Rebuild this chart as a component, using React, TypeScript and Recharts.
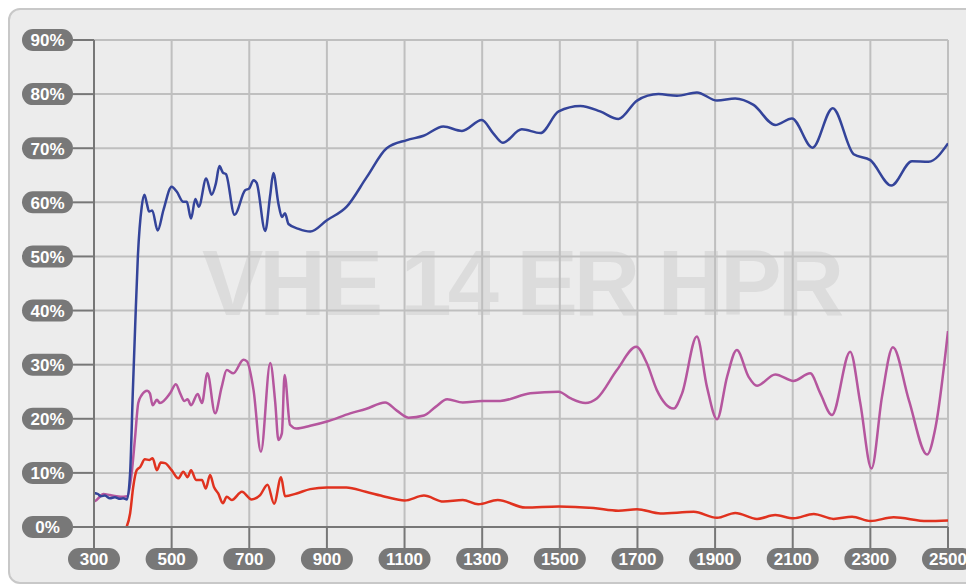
import React from 'react';
import { LineChart, Line, XAxis, YAxis, CartesianGrid } from 'recharts';

const xTicks = [300, 500, 700, 900, 1100, 1300, 1500, 1700, 1900, 2100, 2300, 2500];
const yTicks = [0, 10, 20, 30, 40, 50, 60, 70, 80, 90];
const watermark = 'VHE 14 ER HPR';

const blueWl = [300,310,318,328,341,354,367,375,385,393,400,406,413,423,430,436,442,450,464,479,500,513,530,539,550,561,570,589,603,614,623,632,640,662,689,700,711,719,741,754,762,775,784,792,801,827,857,900,951,1003,1054,1106,1149,1200,1248,1299,1328,1353,1402,1450,1497,1553,1604,1651,1699,1754,1802,1853,1905,1952,1999,2055,2098,2151,2203,2257,2300,2354,2407,2450,2500];
const bluePct = [6.3,6.1,5.7,5.8,5.3,5.5,5.2,5.3,5.1,9.9,25,37,50,59.2,61.4,59.8,58.3,58.5,54.8,58.6,62.9,62.0,60.1,60.1,57.0,60.6,59.2,64.4,61.4,63.5,66.7,65.5,65.2,57.7,62.2,62.6,64.1,63.6,54.7,61.4,65.4,59.8,57.3,58.0,56.0,55.1,54.6,56.7,59.2,64.7,70.0,71.5,72.3,74.0,73.2,75.2,72.8,71.0,73.5,72.8,76.8,77.8,76.8,75.4,78.8,80.0,79.7,80.3,78.8,79.2,78.0,74.3,75.5,70.1,77.4,68.9,67.8,63.1,67.6,67.5,70.9];

const magentaWl = [300,303,315,324,341,358,376,386,397,406,414,423,437,444,451,462,470,496,511,522,533,541,550,567,578,592,612,629,642,659,685,694,711,730,754,767,775,784,791,805,822,857,900,960,1000,1050,1080,1110,1150,1180,1210,1250,1300,1346,1424,1497,1527,1566,1596,1647,1697,1724,1750,1793,1815,1853,1879,1905,1931,1956,1986,2008,2055,2102,2145,2171,2201,2248,2274,2303,2330,2358,2399,2446,2468,2500];
const magentaPct = [4.7,4.8,5.6,6.1,5.9,5.7,5.6,5.7,9.9,16.7,22.9,24.4,25.2,24.7,22.5,23.5,22.9,24.7,26.4,24.7,23.3,23.6,22.5,24.6,22.9,28.4,21.0,25.9,29.0,28.4,30.9,30.6,25.3,13.9,30.3,22.9,16.1,17.3,28.1,18.9,18.2,18.7,19.5,21.0,21.8,23.0,21.5,20.2,20.6,22.2,23.6,23.0,23.3,23.3,24.7,25.0,23.8,22.9,23.8,29.0,33.3,30.3,25.3,21.9,24.7,35.2,25.9,19.9,27.8,32.7,27.8,26.1,28.2,27.0,28.4,24.7,20.7,32.4,22.9,10.8,24.1,33.2,23.5,13.4,18.5,36.2];

const redWl = [384,393,401,410,419,431,443,451,462,472,483,500,517,530,541,550,563,578,588,599,609,620,632,642,655,681,706,728,747,764,782,792,822,857,900,950,1000,1050,1100,1150,1200,1250,1290,1340,1411,1497,1587,1651,1699,1759,1845,1905,1952,2008,2055,2102,2154,2205,2253,2300,2360,2446,2500];
const redPct = [0,2.5,7.4,10.5,11.1,12.5,12.4,12.7,10.5,11.9,11.8,10.5,9.0,10.2,9.2,10.5,8.7,8.7,7.1,9.6,7.4,6.2,4.4,5.6,5.0,6.5,5.1,5.9,7.8,4.3,9.2,5.7,6.2,7.0,7.3,7.3,6.5,5.6,4.9,5.8,4.7,5.0,4.2,5.0,3.6,3.8,3.5,3.0,3.3,2.5,2.8,1.7,2.6,1.5,2.2,1.6,2.4,1.5,1.9,1.1,1.8,1.1,1.2];

const zip = (xs: number[], ys: number[]) => xs.map((x, i) => ({ x, y: ys[i] }));
const blueData = zip(blueWl, bluePct);
const magentaData = zip(magentaWl, magentaPct);
const redData = zip(redWl, redPct);

const FONT = '"Liberation Sans", Arial, Helvetica, sans-serif';
const PILL = '#787878';

const YTick = (props: any) => {
  const { x, y, payload } = props;
  return (
    <g>
      <rect x={x - 51} y={y - 11} width={51} height={22} rx={11} ry={11} fill={PILL} />
      <text x={x - 25.5} y={y + 6.3} textAnchor="middle" fill="#fff" fontSize={17} fontWeight="bold" fontFamily={FONT}>
        {payload.value}%
      </text>
    </g>
  );
};

const XTick = (props: any) => {
  const { x, y, payload } = props;
  return (
    <g>
      <rect x={x - 26} y={y} width={52} height={22} rx={11} ry={11} fill={PILL} />
      <text x={x} y={y + 17.3} textAnchor="middle" fill="#fff" fontSize={17} fontWeight="bold" fontFamily={FONT}>
        {payload.value}
      </text>
    </g>
  );
};

export default function App() {
  return (
    <div style={{ position: 'relative', width: 966, height: 577, overflow: 'hidden' }}>
      <div
        style={{
          position: 'absolute', left: 0, top: 0, width: 1000, height: 576,
          boxSizing: 'border-box', border: '2px solid #c8c8c8', borderRadius: 12, background: '#ececec',
        }}
      />
      <svg width={966} height={576} style={{ position: 'absolute', left: 0, top: 0 }}>
        <text x={513} y={307} textAnchor="middle" fill="#dcdcdc" fontSize={92} fontWeight="bold" fontFamily={FONT} letterSpacing={-4}>
          {watermark}
        </text>
      </svg>
      <div style={{ position: 'absolute', left: 0, top: 0 }}>
        <LineChart width={966} height={576} margin={{ top: 32, right: 26, left: 0, bottom: 0 }}>
          <CartesianGrid stroke="#bfbfbf" strokeWidth={2} horizontalValues={yTicks} verticalValues={xTicks} />
          <XAxis
            type="number" dataKey="x" domain={[300, 2500]} ticks={xTicks} interval={0} height={57}
            axisLine={{ stroke: '#777', strokeWidth: 2 }} tickLine={{ stroke: '#777', strokeWidth: 2 }}
            tickSize={21} tickMargin={0} tick={<XTick />} allowDataOverflow
          />
          <YAxis
            type="number" domain={[0, 90]} ticks={yTicks} interval={0} width={86}
            axisLine={{ stroke: '#777', strokeWidth: 2 }} tickLine={{ stroke: '#777', strokeWidth: 2 }}
            tickSize={21} tickMargin={0} tick={<YTick />} allowDataOverflow
          />
          <Line data={magentaData} dataKey="y" type="monotone" stroke="#b5569e" strokeWidth={2.5} dot={false} isAnimationActive={false} />
          <Line data={redData} dataKey="y" type="monotone" stroke="#e0321f" strokeWidth={2.5} dot={false} isAnimationActive={false} />
          <Line data={blueData} dataKey="y" type="monotone" stroke="#34449a" strokeWidth={2.5} dot={false} isAnimationActive={false} />
        </LineChart>
      </div>
    </div>
  );
}
